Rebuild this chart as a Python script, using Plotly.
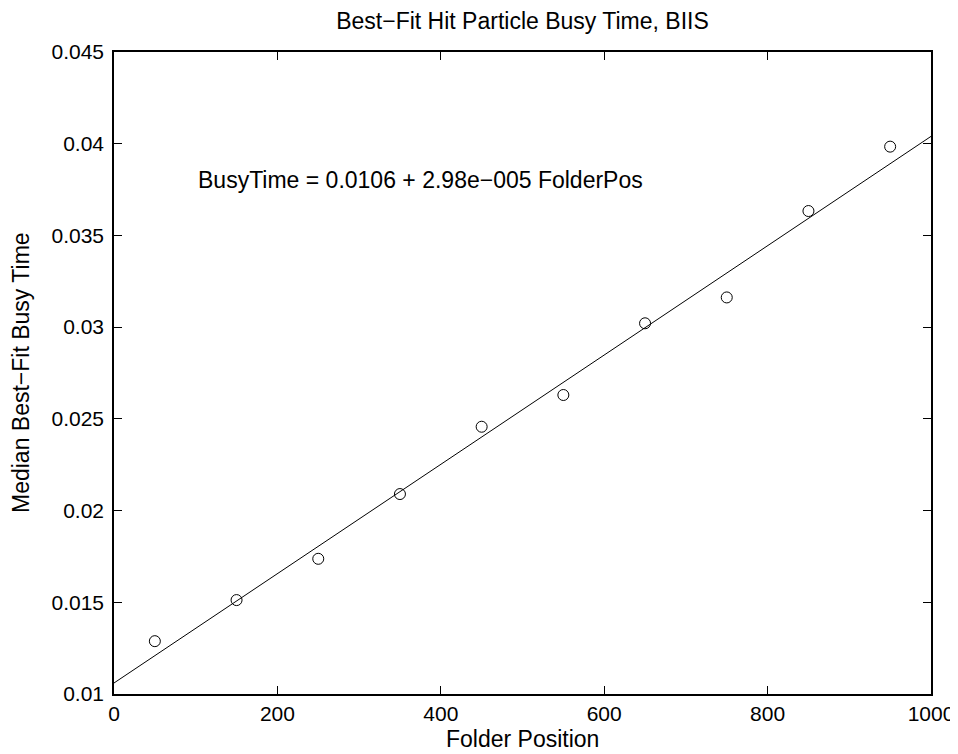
import plotly.graph_objects as go

# Data
folder_pos = [50, 150, 250, 350, 450, 550, 650, 750, 850, 950]
busy_time = [0.01288, 0.01512, 0.01737, 0.0209, 0.02457, 0.0263, 0.03021, 0.03162, 0.03633, 0.03984]

fit_intercept = 0.0106
fit_slope = 2.98e-5
fit_x = [0, 1000]
fit_y = [fit_intercept + fit_slope * x for x in fit_x]

x_ticks = [0, 200, 400, 600, 800, 1000]
x_ticktext = ["0", "200", "400", "600", "800", "1000"]
y_ticks = [0.01, 0.015, 0.02, 0.025, 0.03, 0.035, 0.04, 0.045]
y_ticktext = ["0.01", "0.015", "0.02", "0.025", "0.03", "0.035", "0.04", "0.045"]

FONT = "Liberation Sans, Arial, Helvetica, sans-serif"

# the page body adds an 8 px offset, so the figure is 8 px smaller on each side
W, H = 950, 746
L, R, T, B = 106, 27, 44, 60

fig = go.Figure()
fig.add_trace(go.Scatter(
    x=folder_pos, y=busy_time, mode="markers",
    marker=dict(symbol="circle-open", size=11, color="black", line=dict(width=1, color="black")),
    showlegend=False, hoverinfo="x+y"))
fig.add_trace(go.Scatter(
    x=fit_x, y=fit_y, mode="lines",
    line=dict(color="black", width=1), showlegend=False))

axis_common = dict(
    showgrid=False, zeroline=False, showline=True, linecolor="black", linewidth=1.5,
    mirror="ticks", ticks="inside", ticklen=8, tickwidth=1, tickcolor="black",
    tickfont=dict(family=FONT, size=21, color="black"), automargin=False,
)

fig.update_xaxes(range=[0, 1000], tickvals=x_ticks, ticktext=x_ticktext,
                 ticklabelstandoff=0, **axis_common)
fig.update_yaxes(range=[0.01, 0.045], tickvals=y_ticks, ticktext=y_ticktext,
                 ticklabelstandoff=4, **axis_common)

fig.update_layout(
    width=W, height=H,
    margin=dict(l=L, r=R, t=T, b=B, autoexpand=False),
    paper_bgcolor="white", plot_bgcolor="white",
    font=dict(family=FONT, color="black"),
    title=dict(text="Best\u2212Fit Hit Particle Busy Time, BIIS",
               x=(L + (W - R)) / 2 / W, xanchor="center",
               y=1 - 13 / H, yanchor="middle", yref="container",
               font=dict(family=FONT, size=23, color="black")),
    annotations=[
        dict(text="BusyTime = 0.0106 + 2.98e\u2212005 FolderPos",
             x=100, y=0.038, xref="x", yref="y", xanchor="left", yanchor="middle",
             showarrow=False, font=dict(family=FONT, size=23, color="black")),
        dict(text="Folder Position", x=0.5, y=0, xref="paper", yref="paper",
             xanchor="center", yanchor="middle", yshift=-45, showarrow=False,
             font=dict(family=FONT, size=23, color="black")),
        dict(text="Median Best\u2212Fit Busy Time", x=0, y=0.5, xref="paper", yref="paper",
             xanchor="center", yanchor="middle", xshift=-93, textangle=-90, showarrow=False,
             font=dict(family=FONT, size=23, color="black")),
    ],
)

fig.write_html("out.html")
